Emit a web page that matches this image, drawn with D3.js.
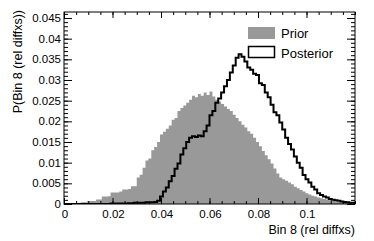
<!DOCTYPE html>
<html>
<head>
<meta charset="utf-8">
<script src="https://d3js.org/d3.v7.min.js"></script>
<style>
  body { margin: 0; background: #fff; }
  text { font-family: "Liberation Sans", Arial, sans-serif; fill: #000; }
</style>
</head>
<body>
<script>
// 100 bins from 0 to 0.12
var xMin = 0, xMax = 0.12, nBins = 100;

var prior = [
  0, 0, 0.0001, 0.0001, 0.0002, 0.0003, 0.0004, 0.0004, 0.0007, 0.0007,
  0.0007, 0.0011, 0.0011, 0.0018, 0.0018, 0.0019, 0.0028, 0.0028, 0.0028, 0.0030,
  0.0035, 0.0035, 0.0036, 0.0043, 0.0043, 0.0064, 0.0071, 0.0088, 0.0105, 0.0110,
  0.0130, 0.0138, 0.0150, 0.0168, 0.0175, 0.0182, 0.0190, 0.0204, 0.0208, 0.0225,
  0.0232, 0.0238, 0.0245, 0.0252, 0.0262, 0.0258, 0.0266, 0.0262, 0.0270, 0.0264,
  0.0272, 0.0260, 0.0252, 0.0248, 0.0242, 0.0236, 0.0230, 0.0225, 0.0216, 0.0208,
  0.0200, 0.0192, 0.0185, 0.0176, 0.0170, 0.0160, 0.0150, 0.0140, 0.0128, 0.0118,
  0.0108, 0.0098, 0.0086, 0.0074, 0.0064, 0.0060, 0.0056, 0.0052, 0.0048, 0.0042,
  0.0038, 0.0034, 0.0030, 0.0026, 0.0023, 0.0020, 0.0018, 0.0016, 0.0014, 0.0012,
  0.0011, 0.0009, 0.0008, 0.0006, 0.0005, 0.0004, 0.0003, 0.0003, 0.0002, 0.0001
];

var posterior = [
  0, 0, 0, 0, 0, 0, 0, 0, 0, 0,
  0, 0, 0, 0, 0, 0, 0.0001, 0.0001, 0.0001, 0.0001,
  0.0001, 0.0001, 0.0002, 0.0002, 0.0003, 0.0003, 0.0003, 0.0003, 0.0004, 0.0004,
  0.0004, 0.0005, 0.0008, 0.0018, 0.0030, 0.0040, 0.0055, 0.0068, 0.0085, 0.0098,
  0.0120, 0.0135, 0.0150, 0.0160, 0.0164, 0.0162, 0.0166, 0.0164, 0.0176, 0.0190,
  0.0215, 0.0225, 0.0245, 0.0255, 0.0270, 0.0285, 0.0300, 0.0318, 0.0335, 0.0354,
  0.0362, 0.0356, 0.0345, 0.0330, 0.0325, 0.0315, 0.0312, 0.0292, 0.0288, 0.0270,
  0.0258, 0.0240, 0.0222, 0.0215, 0.0197, 0.0180, 0.0160, 0.0145, 0.0132, 0.0115,
  0.0100, 0.0088, 0.0070, 0.0060, 0.0052, 0.0042, 0.0035, 0.0026, 0.0022, 0.0018,
  0.0016, 0.0012, 0.0010, 0.0009, 0.0008, 0.0006, 0.0005, 0.0004, 0.0003, 0.0003
];

var xTicks = [0, 0.02, 0.04, 0.06, 0.08, 0.1];
var yTicks = [0, 0.005, 0.01, 0.015, 0.02, 0.025, 0.03, 0.035, 0.04, 0.045];
var legendLabels = ["Prior", "Posterior"];

var width = 374, height = 241;
var fLeft = 64, fRight = 355, fTop = 12, fBottom = 204;

var x = d3.scaleLinear().domain([xMin, xMax]).range([fLeft, fRight]);
var y = d3.scaleLinear().domain([0, 0.04645]).range([fBottom, fTop]);

var svg = d3.select("body").append("svg")
    .attr("width", width)
    .attr("height", height);

svg.append("clipPath").attr("id", "frame")
  .append("rect")
    .attr("x", fLeft).attr("y", fTop)
    .attr("width", fRight - fLeft).attr("height", fBottom - fTop);

var binW = (xMax - xMin) / nBins;
function steps(vals) {
  var pts = vals.map(function(v, i) { return [xMin + i * binW, v]; });
  pts.push([xMax, vals[vals.length - 1]]);
  return pts;
}

var g = svg.append("g").attr("clip-path", "url(#frame)");

g.append("path")
    .datum(steps(prior))
    .attr("fill", "#999")
    .attr("d", d3.area().curve(d3.curveStepAfter)
      .x(function(d) { return x(d[0]); })
      .y0(y(0))
      .y1(function(d) { return y(d[1]); }));

g.append("path")
    .datum(steps(posterior))
    .attr("fill", "none")
    .attr("stroke", "#000")
    .attr("stroke-width", 2)
    .attr("d", d3.line().curve(d3.curveStepAfter)
      .x(function(d) { return x(d[0]); })
      .y(function(d) { return y(d[1]); }));

// minor ticks
var xMinor = d3.range(0, 121, 5).map(function(d) { return d / 1000; });
var yMinor = d3.range(0, 47).map(function(d) { return d / 1000; });
var fmt = function(d) { return String(+d.toFixed(3)); };

function axis(gen, scale, major, minor, len, minLen, tx, ty) {
  var a = svg.append("g").attr("transform", "translate(" + tx + "," + ty + ")");
  a.call(gen(scale).tickValues(minor).tickSize(minLen).tickFormat(""));
  a.append("g").call(gen(scale).tickValues(major).tickSize(len).tickFormat(""));
  a.selectAll(".domain").remove();
  a.selectAll("line").attr("stroke", "#000");
  return a;
}

// bottom (ticks pointing up), top (pointing down), left, right
axis(d3.axisTop, x, xTicks, xMinor, 6, 3, 0, fBottom);
axis(d3.axisBottom, x, xTicks, xMinor, 6, 3, 0, fTop);
axis(d3.axisRight, y, yTicks, yMinor, 8, 4, fLeft, 0);
axis(d3.axisLeft, y, yTicks, yMinor, 8, 4, fRight, 0);

// tick labels
svg.append("g").selectAll("text")
  .data(xTicks).enter().append("text")
    .attr("x", function(d) { return x(d) + 1; })
    .attr("y", fBottom + 14)
    .attr("text-anchor", "middle")
    .attr("font-size", 11.5)
    .text(fmt);

svg.append("g").selectAll("text")
  .data(yTicks).enter().append("text")
    .attr("x", fLeft - 3)
    .attr("y", function(d) { return y(d) + 4; })
    .attr("text-anchor", "end")
    .attr("font-size", 11.5)
    .text(fmt);

// frame
svg.append("rect")
    .attr("x", fLeft).attr("y", fTop)
    .attr("width", fRight - fLeft).attr("height", fBottom - fTop)
    .attr("fill", "none").attr("stroke", "#000").attr("stroke-width", 1);

// axis titles
svg.append("text")
    .attr("x", fRight)
    .attr("y", 234)
    .attr("text-anchor", "end")
    .attr("font-size", 12.5)
    .text("Bin 8 (rel diffxs)");

svg.append("text")
    .attr("transform", "translate(22,10) rotate(-90)")
    .attr("text-anchor", "end")
    .attr("font-size", 12.5)
    .text("P(Bin 8 (rel diffxs))");

// legend
var leg = svg.append("g");
leg.append("rect")
    .attr("x", 248).attr("y", 27).attr("width", 27).attr("height", 12)
    .attr("fill", "#999");
leg.append("rect")
    .attr("x", 248.5).attr("y", 46.5).attr("width", 26).attr("height", 11)
    .attr("fill", "#fff").attr("stroke", "#000").attr("stroke-width", 1.5);
leg.selectAll("text.lab")
  .data(legendLabels).enter().append("text")
    .attr("class", "lab")
    .attr("x", 281)
    .attr("y", function(d, i) { return 38 + i * 19.5; })
    .attr("font-size", 13)
    .text(function(d) { return d; });
</script>
</body>
</html>
